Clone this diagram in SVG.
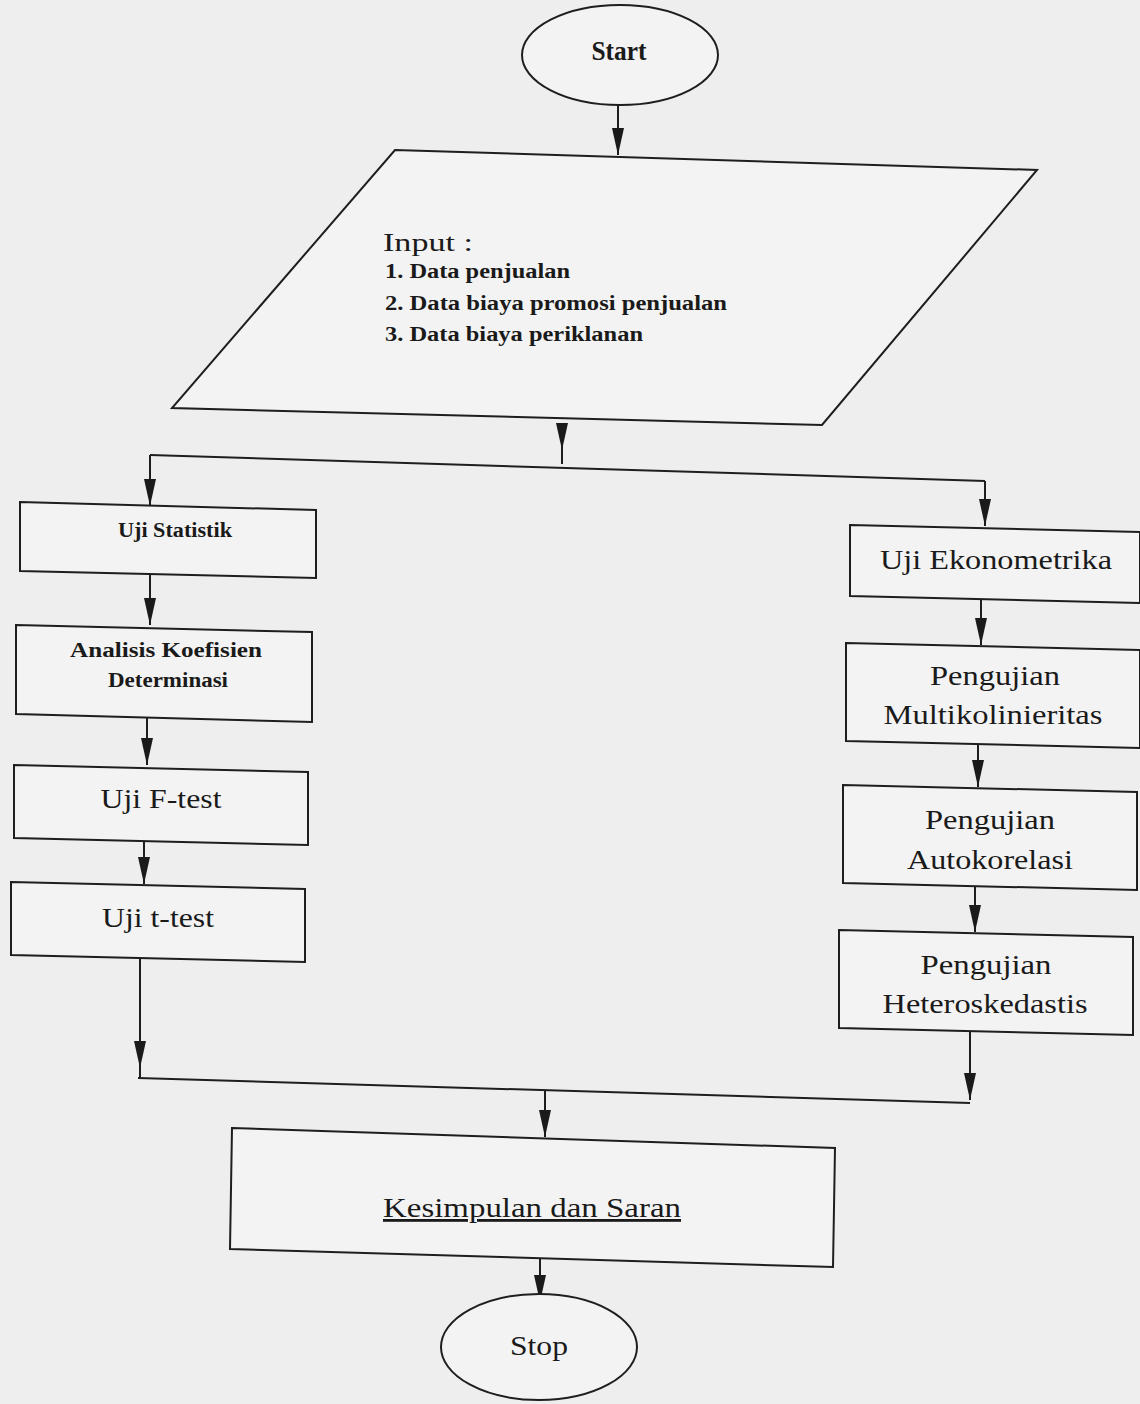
<svg xmlns="http://www.w3.org/2000/svg" width="1140" height="1404" viewBox="0 0 1140 1404">
<style>
.bg{fill:#eeeeef}
.shape{fill:#f3f3f3;stroke:#1e1e1e;stroke-width:2}
.ln{fill:none;stroke:#1e1e1e;stroke-width:2}
text{font-family:"Liberation Serif","Times New Roman",serif;fill:#1a1a1a}
.b{font-weight:bold}
</style>
<defs>
<marker id="a" markerUnits="userSpaceOnUse" markerWidth="28" markerHeight="12" viewBox="0 0 28 12" refX="27" refY="6" orient="auto">
<path d="M0,0 L27,6 L0,12 Z" fill="#1a1a1a"/>
</marker>
</defs>
<rect class="bg" x="0" y="0" width="1140" height="1404"/>

<g id="connectors">
<path class="ln" d="M618,105 L618,155" marker-end="url(#a)"/>
<path class="ln" d="M562,425 L562,450" marker-end="url(#a)"/>
<path class="ln" d="M562,450 L562,464"/>
<path class="ln" d="M150,455 L985,481"/>
<path class="ln" d="M150,455 L150,506" marker-end="url(#a)"/>
<path class="ln" d="M985,481 L985,526" marker-end="url(#a)"/>
<path class="ln" d="M150,575 L150,625" marker-end="url(#a)"/>
<path class="ln" d="M147,718 L147,765" marker-end="url(#a)"/>
<path class="ln" d="M144,842 L144,884" marker-end="url(#a)"/>
<path class="ln" d="M140,958 L140,1068" marker-end="url(#a)"/>
<path class="ln" d="M140,1068 L140,1078"/>
<path class="ln" d="M981,600 L981,645" marker-end="url(#a)"/>
<path class="ln" d="M978,742 L978,787" marker-end="url(#a)"/>
<path class="ln" d="M975,882 L975,932" marker-end="url(#a)"/>
<path class="ln" d="M970,1030 L970,1100" marker-end="url(#a)"/>
<path class="ln" d="M138,1078 L970,1103"/>
<path class="ln" d="M545,1090 L545,1137" marker-end="url(#a)"/>
<path class="ln" d="M540,1257 L540,1302" marker-end="url(#a)"/>
</g>

<g id="start">
<ellipse class="shape" cx="620" cy="55" rx="98" ry="50"/>
<text class="b" x="619" y="60" font-size="27" text-anchor="middle" textLength="55" lengthAdjust="spacingAndGlyphs">Start</text>
</g>

<g id="input">
<polygon class="shape" points="395,150 1037,170 822,425 172,408"/>
<text x="383" y="251" font-size="26" textLength="90" lengthAdjust="spacingAndGlyphs">Input :</text>
<text class="b" x="385" y="278" font-size="20" textLength="185" lengthAdjust="spacingAndGlyphs">1. Data penjualan</text>
<text class="b" x="385" y="310" font-size="20" textLength="342" lengthAdjust="spacingAndGlyphs">2. Data biaya promosi penjualan</text>
<text class="b" x="385" y="341" font-size="20" textLength="258" lengthAdjust="spacingAndGlyphs">3. Data biaya periklanan</text>
</g>

<g id="uji-statistik">
<polygon class="shape" points="20,502 316,510 316,578 20,571"/>
<text class="b" x="175" y="537" font-size="20" text-anchor="middle" textLength="114" lengthAdjust="spacingAndGlyphs">Uji Statistik</text>
</g>

<g id="analisis">
<polygon class="shape" points="16,625 312,632 312,722 16,714"/>
<text class="b" x="166" y="657" font-size="20" text-anchor="middle" textLength="192" lengthAdjust="spacingAndGlyphs">Analisis Koefisien</text>
<text class="b" x="168" y="687" font-size="20" text-anchor="middle" textLength="120" lengthAdjust="spacingAndGlyphs">Determinasi</text>
</g>

<g id="uji-f">
<polygon class="shape" points="14,765 308,772 308,845 14,838"/>
<text x="161" y="808" font-size="27" text-anchor="middle" textLength="121" lengthAdjust="spacingAndGlyphs">Uji F-test</text>
</g>

<g id="uji-t">
<polygon class="shape" points="11,882 305,889 305,962 11,955"/>
<text x="158" y="927" font-size="27" text-anchor="middle" textLength="112" lengthAdjust="spacingAndGlyphs">Uji t-test</text>
</g>

<g id="uji-ekonometrika">
<polygon class="shape" points="850,525 1140,532 1140,603 850,596"/>
<text x="996" y="569" font-size="28" text-anchor="middle" textLength="232" lengthAdjust="spacingAndGlyphs">Uji Ekonometrika</text>
</g>

<g id="multikolinieritas">
<polygon class="shape" points="846,643 1140,650 1140,748 846,741"/>
<text x="995" y="685" font-size="27" text-anchor="middle" textLength="130" lengthAdjust="spacingAndGlyphs">Pengujian</text>
<text x="993" y="724" font-size="27" text-anchor="middle" textLength="219" lengthAdjust="spacingAndGlyphs">Multikolinieritas</text>
</g>

<g id="autokorelasi">
<polygon class="shape" points="843,785 1137,792 1137,890 843,883"/>
<text x="990" y="829" font-size="27" text-anchor="middle" textLength="130" lengthAdjust="spacingAndGlyphs">Pengujian</text>
<text x="990" y="869" font-size="27" text-anchor="middle" textLength="166" lengthAdjust="spacingAndGlyphs">Autokorelasi</text>
</g>

<g id="heteroskedastis">
<polygon class="shape" points="839,930 1133,937 1133,1035 839,1028"/>
<text x="986" y="974" font-size="27" text-anchor="middle" textLength="131" lengthAdjust="spacingAndGlyphs">Pengujian</text>
<text x="985" y="1013" font-size="27" text-anchor="middle" textLength="205" lengthAdjust="spacingAndGlyphs">Heteroskedastis</text>
</g>

<g id="kesimpulan">
<polygon class="shape" points="232,1128 835,1148 833,1267 230,1249"/>
<text x="532" y="1217" font-size="28" text-anchor="middle" text-decoration="underline" textLength="298" lengthAdjust="spacingAndGlyphs">Kesimpulan dan Saran</text>
</g>

<g id="stop">
<ellipse class="shape" cx="539" cy="1347" rx="98" ry="53"/>
<text x="539" y="1355" font-size="27" text-anchor="middle" textLength="58" lengthAdjust="spacingAndGlyphs">Stop</text>
</g>
</svg>
